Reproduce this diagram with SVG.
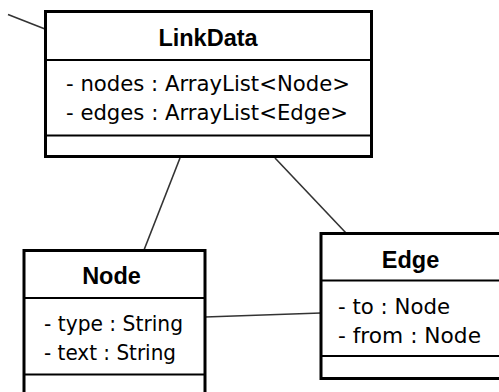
<svg xmlns="http://www.w3.org/2000/svg" width="499" height="392" viewBox="0 0 499 392">
  <style>
    .box { fill: #ffffff; stroke: #000000; stroke-width: 3; }
    .sep { stroke: #000000; stroke-width: 2; }
    .link { stroke: #333333; stroke-width: 1.6; fill: none; }
    .title { font-family: "Liberation Sans", Arial, sans-serif; font-weight: bold; font-size: 23.5px; fill: #000000; text-anchor: middle; }
    .attr { font-family: "DejaVu Sans", Verdana, sans-serif; font-size: 21px; fill: #000000; }
  </style>
  <rect x="0" y="0" width="499" height="392" fill="#ffffff"/>

  <!-- associations between classes -->
  <g id="connectors">
    <line class="link" x1="8" y1="14.5" x2="45" y2="29"/>
    <line class="link" x1="180" y1="158" x2="144" y2="250"/>
    <line class="link" x1="275" y1="158" x2="346" y2="233"/>
    <line class="link" x1="205" y1="317" x2="321" y2="313"/>
  </g>

  <!-- class LinkData -->
  <g id="LinkData">
    <rect class="box" x="45.5" y="11.5" width="326" height="145"/>
    <line class="sep" x1="45.5" y1="60" x2="371.5" y2="60"/>
    <line class="sep" x1="45.5" y1="135.5" x2="371.5" y2="135.5"/>
    <text class="title" x="208" y="46">LinkData</text>
    <text class="attr" x="66" y="91" textLength="284" lengthAdjust="spacingAndGlyphs">- nodes : ArrayList&lt;Node&gt;</text>
    <text class="attr" x="66" y="120" textLength="282" lengthAdjust="spacingAndGlyphs">- edges : ArrayList&lt;Edge&gt;</text>
  </g>

  <!-- class Node -->
  <g id="Node">
    <rect class="box" x="24" y="250.5" width="181" height="160"/>
    <line class="sep" x1="24" y1="298" x2="205" y2="298"/>
    <line class="sep" x1="24" y1="374.5" x2="205" y2="374.5"/>
    <text class="title" x="111.5" y="284">Node</text>
    <text class="attr" x="44" y="331" textLength="139" lengthAdjust="spacingAndGlyphs">- type : String</text>
    <text class="attr" x="44" y="360" textLength="132" lengthAdjust="spacingAndGlyphs">- text : String</text>
  </g>

  <!-- class Edge -->
  <g id="Edge">
    <rect class="box" x="321" y="233.5" width="200" height="145"/>
    <line class="sep" x1="321" y1="280.5" x2="521" y2="280.5"/>
    <line class="sep" x1="321" y1="356" x2="521" y2="356"/>
    <text class="title" x="410.5" y="268">Edge</text>
    <text class="attr" x="338" y="314" textLength="112" lengthAdjust="spacingAndGlyphs">- to : Node</text>
    <text class="attr" x="338" y="343" textLength="143" lengthAdjust="spacingAndGlyphs">- from : Node</text>
  </g>
</svg>
